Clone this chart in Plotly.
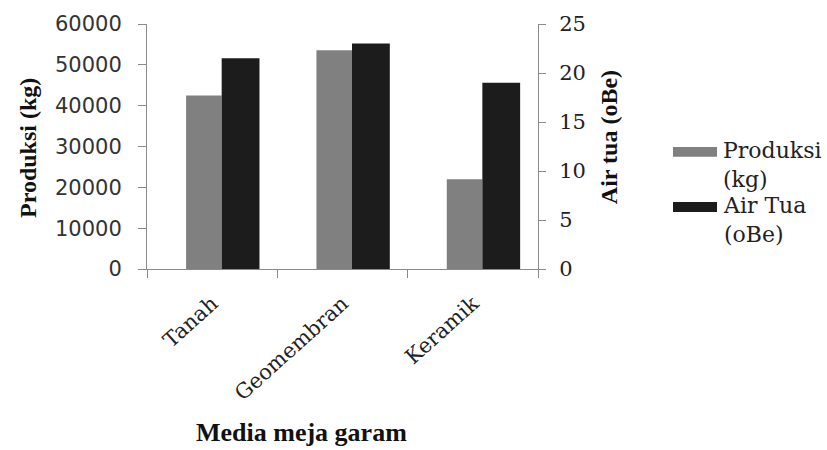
import plotly.graph_objects as go

# Salt production by evaporation table medium
media = ["Tanah", "Geomembran", "Keramik"]
produksi_kg = [42500, 53600, 22000]
air_tua_obe = [21.5, 23.0, 19.0]
series_names = ["Produksi (kg)", "Air Tua (oBe)"]
series_legend = ["Produksi<br>(kg)", "Air Tua<br>(oBe)"]
left_ticks = [0, 10000, 20000, 30000, 40000, 50000, 60000]
right_ticks = [0, 5, 10, 15, 20, 25]

GRAY = "#808080"
BLACK = "#1c1c1c"
AXIS = "#8a8a8a"
SERIF = "DejaVu Serif"
TITLE_FONT = dict(family="Liberation Serif", size=24, color="#111111")

W, H = 827, 450
ML, MR, MT, MB = 147, 289, 20, 181
PW, PH = W - ML - MR, H - MT - MB


def px(x):
    return (x - ML) / PW


def py(y):
    return (H - MB - y) / PH


fig = go.Figure()
fig.add_trace(go.Bar(
    x=media, y=produksi_kg, name=series_names[0], yaxis="y",
    marker=dict(color=GRAY, line=dict(width=0)),
    offset=-0.20, width=0.273, showlegend=False,
))
fig.add_trace(go.Bar(
    x=media, y=air_tua_obe, name=series_names[1], yaxis="y2",
    marker=dict(color=BLACK, line=dict(width=0)),
    offset=0.073, width=0.29, showlegend=False,
))

fig.update_layout(
    width=W, height=H,
    margin=dict(l=ML, r=MR, t=MT, b=MB),
    paper_bgcolor="white", plot_bgcolor="white",
    barmode="overlay",
    showlegend=False,
    xaxis=dict(
        type="category", range=[-0.5, 2.5],
        showline=True, linecolor=AXIS, linewidth=1,
        ticks="outside", tickson="boundaries", ticklen=8, tickcolor=AXIS,
        tickangle=-42, showgrid=False, zeroline=False,
        tickfont=dict(family=SERIF, size=21, color="#222222"),
        ticklabelstandoff=13,
    ),
    yaxis=dict(
        range=[0, 60000], tickvals=left_ticks,
        ticktext=[str(v) for v in left_ticks],
        showline=True, linecolor=AXIS, linewidth=1,
        ticks="outside", ticklen=8, tickcolor=AXIS,
        showgrid=False, zeroline=False,
        tickfont=dict(family="DejaVu Sans", size=21, color="#333333"),
        ticklabelstandoff=12,
    ),
    yaxis2=dict(
        range=[0, 25], tickvals=right_ticks, overlaying="y", side="right",
        showline=True, linecolor=AXIS, linewidth=1,
        ticks="outside", ticklen=7, tickcolor=AXIS,
        showgrid=False, zeroline=False,
        tickfont=dict(family=SERIF, size=21, color="#222222"),
        ticklabelstandoff=9,
    ),
)

# Axis titles
fig.add_annotation(text="<b>Produksi (kg)</b>", xref="paper", yref="paper",
                   x=px(28), y=py(146), textangle=-90, showarrow=False,
                   xanchor="center", yanchor="middle", font=TITLE_FONT)
fig.add_annotation(text="<b>Air tua (oBe)</b>", xref="paper", yref="paper",
                   x=px(609), y=py(135), textangle=-90, showarrow=False,
                   xanchor="center", yanchor="middle", font=TITLE_FONT)
fig.add_annotation(text="<b>Media meja garam</b>", xref="paper", yref="paper",
                   x=px(301), y=py(435), showarrow=False,
                   xanchor="center", yanchor="middle",
                   font=dict(family="Liberation Serif", size=26, color="#111111"))

# Legend: swatches and wrapped labels
legend_rows = [(150, GRAY), (206, BLACK)]
for (cy, color), label in zip(legend_rows, series_legend):
    fig.add_shape(type="rect", xref="paper", yref="paper",
                  x0=px(673), x1=px(717), y0=py(cy + 5), y1=py(cy - 5),
                  fillcolor=color, line=dict(width=0))
    fig.add_annotation(text=label, xref="paper", yref="paper",
                       x=px(721), y=py(cy - 16), showarrow=False,
                       xanchor="left", yanchor="top", align="left",
                       font=dict(family=SERIF, size=22, color="#222222"))

fig.write_html("out.html")
